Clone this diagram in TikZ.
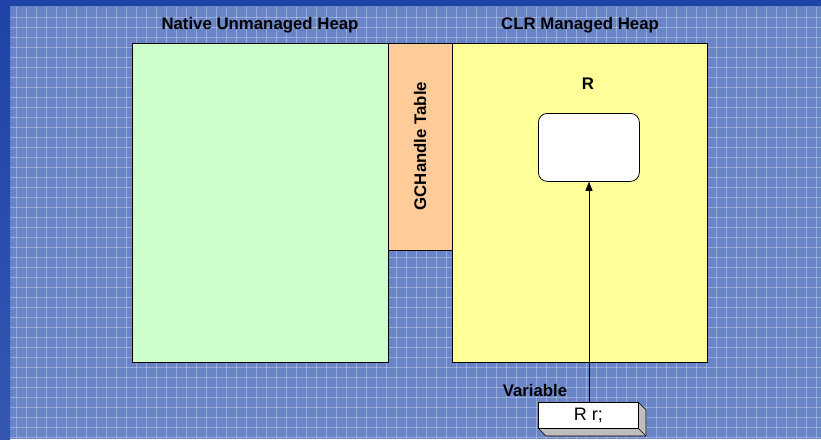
\documentclass[tikz,border=0pt]{standalone}
\usepackage{fontspec}
\setmainfont{Liberation Sans}
\usetikzlibrary{arrows.meta}
\definecolor{bgblue}{HTML}{6A84C8}
\definecolor{edgeblue}{HTML}{1E44A8}
\definecolor{heapgreen}{HTML}{CCFFCC}
\definecolor{heapyellow}{HTML}{FFFF99}
\definecolor{tableorange}{HTML}{FFCC99}
\definecolor{depthgray}{HTML}{BEBEBE}
\tikzset{
  region/.style={draw=black, line width=0.9pt},
  heading/.style={font=\bfseries\fontsize{16.8}{19}\selectfont, text=black, inner sep=0pt},
  objbox/.style={draw=black, line width=0.8pt, fill=white, rounded corners=9pt},
  ref/.style={draw=black, line width=0.6pt, -{Triangle[length=9pt,width=7pt]}},
}
\begin{document}
\begin{tikzpicture}[x=1pt,y=-1pt]
  \useasboundingbox (0,0) rectangle (821,439);
  % backdrop with a fine grid
  \fill[bgblue] (0,0) rectangle (821,439);
  \foreach \gx in {16.7,26.7,...,821} \draw[white,opacity=0.3,line width=0.8pt] (\gx,7) -- (\gx,439);
  \foreach \gy in {17,27,...,439} \draw[white,opacity=0.3,line width=0.8pt] (10,\gy) -- (821,\gy);
  \fill[edgeblue] (0,0) rectangle (821,6);
  \shade[top color=edgeblue, bottom color=edgeblue!70!bgblue] (0,0) rectangle (10,439);

  % heaps and the handle table
  \node[region, fill=heapgreen, minimum width=256pt, minimum height=319pt, anchor=north west, inner sep=0pt] (native) at (132,43) {};
  \node[region, fill=tableorange, minimum width=64pt, minimum height=207pt, anchor=north west, inner sep=0pt] (table) at (388,43) {};
  \node[region, fill=heapyellow, minimum width=255pt, minimum height=319pt, anchor=north west, inner sep=0pt] (clr) at (452,43) {};

  \node[heading] (nativeTitle) at (260,25) {Native Unmanaged Heap};
  \node[heading] (clrTitle) at (580,25) {CLR Managed Heap};
  \node[heading, rotate=90] (tableTitle) at (420,146) {GCHandle Table};
  \node[heading] (rTitle) at (588,84) {R};

  % managed object
  \node[objbox, minimum width=101pt, minimum height=68pt, anchor=north west, inner sep=0pt] (obj) at (538,113) {};

  % stack variable drawn as a raised slab
  \fill[depthgray, draw=black, line width=0.6pt] (638,402) -- (646,410) -- (646,436) -- (546,436) -- (538,428) -- (638,428) -- cycle;
  \draw[black, line width=0.6pt] (638,428) -- (646,436);
  \node[draw=black, line width=0.8pt, fill=white, minimum width=100pt, minimum height=26pt, anchor=north west, inner sep=0pt] (var) at (538,402) {};
  \node[font=\fontsize{18}{20}\selectfont, inner sep=0pt] (varText) at (var.center) {R r;};
  \node[heading] (varLabel) at (535,390) {Variable};

  \draw[ref] (var.north -| 589,0) -- (obj.south -| 589,0);
\end{tikzpicture}
\end{document}
